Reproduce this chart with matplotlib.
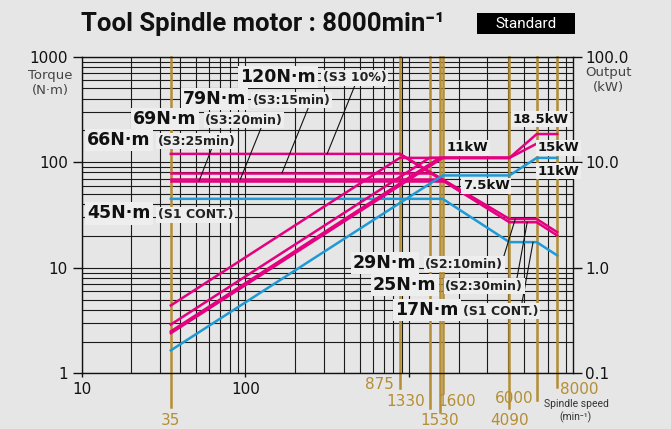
import matplotlib.pyplot as plt
from matplotlib.ticker import LogLocator, NullFormatter
from matplotlib.transforms import blended_transform_factory
from matplotlib.patches import Rectangle

bg = '#e6e6e6'
pink = '#e4007f'
blue = '#1e9ad6'
gold = '#b48e34'
narrow = ['Roboto', 'DejaVu Sans']

# spindle speeds marked in gold (min-1)
gold_speeds = [35, 875, 1330, 1530, 1600, 4090, 6000, 8000]
gold_labels = ['35', '875', '1330', '1530', '1600', '4090', '6000', '8000']

# torque curves, N·m
tq120_n = [35, 875, 4090, 6000, 8000]
tq120 = [120, 120, 29, 29, 21.75]
tq25_n = [875, 4090, 6000, 8000]
tq25 = [120, 27, 27, 20.25]
tq79_n = [35, 1330]
tq79 = [79, 79]
tq69_n = [35, 1530]
tq69 = [69, 69]
tq66_n = [35, 1600]
tq66 = [66, 66]
tq45_n = [35, 1600, 4090, 6000, 8000]
tq45 = [45, 45, 17.5, 17.5, 13.1]

# output curves, kW
pw1_n = [35, 875, 4090, 6000, 8000]
pw1 = [0.44, 11, 11, 18.5, 18.5]
pw2_n = [35, 1330, 4090]
pw2 = [0.29, 11, 11]
pw3_n = [35, 1530, 4090]
pw3 = [0.25, 11, 11]
pw4_n = [35, 1600, 4090, 6000, 8000]
pw4 = [0.24, 11, 11, 15, 15]
pw5_n = [35, 1600, 4090, 6000, 8000]
pw5 = [0.165, 7.5, 7.5, 11, 11]

fig = plt.figure(figsize=(6.71, 4.29), dpi=100, facecolor=bg)
ax = fig.add_axes([0.1218, 0.1298, 0.7322, 0.738])
ax.set_facecolor(bg)
ax.set_xscale('log')
ax.set_yscale('log')
ax.set_xlim(10, 10000)
ax.set_ylim(1, 1000)

ax.xaxis.set_minor_locator(LogLocator(subs=range(2, 10)))
ax.yaxis.set_minor_locator(LogLocator(subs=range(2, 10)))
ax.xaxis.set_minor_formatter(NullFormatter())
ax.yaxis.set_minor_formatter(NullFormatter())
ax.grid(which='both', color='#1a1a1a', lw=0.8, zorder=0)
ax.set_axisbelow(True)
ax.set_xticks([10, 100, 1000])
ax.set_xticklabels(['10', '100', ''])
ax.set_yticks([1, 10, 100, 1000])
ax.set_yticklabels(['1', '10', '100', '1000'])
ax.tick_params(which='minor', length=0)
ax.tick_params(axis='y', which='major', length=6.5, width=1, pad=3.5, labelsize=11, colors='#111111')
ax.tick_params(axis='x', which='major', length=3, width=1, pad=3, labelsize=11, colors='#111111')
for s in ax.spines.values():
    s.set_linewidth(1.0)
    s.set_color('#111111')

ax2 = ax.twinx()
ax2.set_yscale('log')
ax2.set_ylim(0.1, 100)
ax2.set_yticks([0.1, 1, 10, 100])
ax2.set_yticklabels(['0.1', '1.0', '10.0', '100.0'])
ax2.yaxis.set_minor_formatter(NullFormatter())
ax2.tick_params(which='minor', length=0)
ax2.tick_params(axis='y', which='major', length=6.5, width=1, pad=2, labelsize=11, colors='#111111')
ax2.patch.set_visible(False)
for s in ax2.spines.values():
    s.set_visible(False)

# gold speed lines, running below the axis to their labels
trans = blended_transform_factory(ax.transData, ax.transAxes)
line_bottom = [-0.106, -0.046, -0.110, -0.121, -0.062, -0.110, -0.084, -0.042]
lab_y = [-0.150, -0.034, -0.090, -0.150, -0.090, -0.150, -0.081, -0.050]
lab_ha = ['center', 'right', 'right', 'center', 'left', 'center', 'right', 'left']
lab_dx = [0, -4, -3, 0, -4, 0, -2, 2]
for n, yb, ly, ha, dx, t in zip(gold_speeds, line_bottom, lab_y, lab_ha, lab_dx, gold_labels):
    ax.axvline(n, ymin=yb, ymax=1, color=gold, lw=1.8, clip_on=False, zorder=1)
    ax.annotate(t, xy=(n, ly), xycoords=trans, xytext=(dx, 0), textcoords='offset points',
                ha=ha, va='center', fontsize=11, color=gold, annotation_clip=False)

# torque
ax.plot(tq120_n, tq120, color=pink, lw=1.8, zorder=3)
ax.plot(tq25_n, tq25, color=pink, lw=1.8, zorder=3)
ax.plot(tq79_n, tq79, color=pink, lw=1.8, zorder=3)
ax.plot(tq69_n, tq69, color=pink, lw=1.8, zorder=3)
ax.plot(tq66_n, tq66, color=pink, lw=1.8, zorder=3)
ax.plot(tq45_n, tq45, color=blue, lw=1.8, zorder=3)

# output
ax2.plot(pw1_n, pw1, color=pink, lw=1.8)
ax2.plot(pw2_n, pw2, color=pink, lw=1.8)
ax2.plot(pw3_n, pw3, color=pink, lw=1.8)
ax2.plot(pw4_n, pw4, color=pink, lw=1.8)
ax2.plot(pw5_n, pw5, color=blue, lw=1.8)

# labels with leader lines
box = dict(boxstyle='square,pad=0.12', fc='#eeeeee', ec='none')
big = [('120N·m', 0.322, 0.937), ('79N·m', 0.206, 0.866), ('69N·m', 0.105, 0.803),
       ('66N·m', 0.011, 0.737), ('45N·m', 0.011, 0.505), ('29N·m', 0.552, 0.348),
       ('25N·m', 0.593, 0.279), ('17N·m', 0.638, 0.200)]
small = [('(S3 10%)', 0.491), ('(S3:15min)', 0.348), ('(S3:20min)', 0.251),
         ('(S3:25min)', 0.155), ('(S1 CONT.)', 0.155), ('(S2:10min)', 0.699),
         ('(S2:30min)', 0.740), ('(S1 CONT.)', 0.776)]
for (t, x, y), (s, xs) in zip(big, small):
    ax2.text(x, y, t, transform=ax2.transAxes, fontsize=12.5, fontweight='bold',
             va='center', ha='left', color='#111111', bbox=box, zorder=6)
    ax2.text(xs, y - 0.004, s, transform=ax2.transAxes, fontsize=9, fontweight='bold',
             va='center', ha='left', color='#222222', bbox=box, zorder=6)

kw = [('11kW', 0.743, 0.712), ('7.5kW', 0.776, 0.592), ('18.5kW', 0.876, 0.803),
      ('15kW', 0.927, 0.712), ('11kW', 0.927, 0.639)]
for t, x, y in kw:
    ax2.text(x, y, t, transform=ax2.transAxes, fontsize=9.5, fontweight='bold',
             va='center', ha='left', color='#111111', bbox=box, zorder=6)

leaders = [((315, 120), (0.558, 0.917)), ((167, 79), (0.461, 0.838)),
           ((93, 69), (0.365, 0.775)), ((52, 66), (0.265, 0.712)),
           ((4440, 29), (0.858, 0.364)), ((5250, 27), (0.884, 0.285)),
           ((5700, 17.5), (0.896, 0.222))]
for xy, xyt in leaders:
    ax2.annotate('', xy=xy, xycoords=ax.transData, xytext=xyt, textcoords='axes fraction',
                 arrowprops=dict(arrowstyle='-', lw=0.8, color='#111111',
                                 shrinkA=0, shrinkB=0), zorder=5)

# axis captions
fig.text(50 / 671, 1 - 75 / 429, 'Torque', ha='center', va='center', fontsize=9.5, color='#444444')
fig.text(50 / 671, 1 - 90.5 / 429, '(N·m)', ha='center', va='center', fontsize=9.5, color='#444444')
fig.text(608 / 671, 1 - 72.5 / 429, 'Output', ha='center', va='center', fontsize=9.5, color='#444444')
fig.text(608 / 671, 1 - 87.5 / 429, '(kW)', ha='center', va='center', fontsize=9.5, color='#444444')
fig.text(576 / 671, 1 - 404 / 429, 'Spindle speed', ha='center', va='center', fontsize=7.5,
         family=narrow, color='#333333')
fig.text(575 / 671, 1 - 417 / 429, '(min⁻¹)', ha='center', va='center', fontsize=7.5,
         family=narrow, color='#333333')

# title and badge
fig.text(81 / 671, 1 - 24 / 429, 'Tool Spindle motor : 8000min⁻¹', ha='left', va='center',
         fontsize=18.5, fontweight='bold', family=narrow, color='#111111')
fig.patches.append(Rectangle((477 / 671, 1 - 34 / 429), 98 / 671, 21 / 429,
                             transform=fig.transFigure, fc='black', ec='none'))
fig.text(526 / 671, 1 - 23.5 / 429, 'Standard', ha='center', va='center', fontsize=11,
         family=narrow, color='white')

fig.savefig('out.png', dpi=100, facecolor=bg)
